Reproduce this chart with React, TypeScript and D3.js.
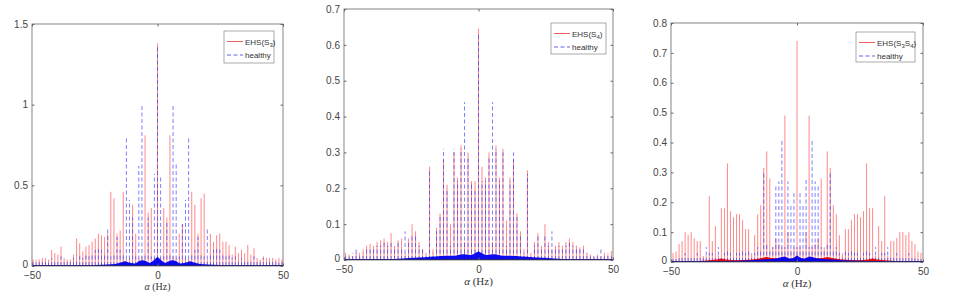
import { useRef, useEffect, RefObject } from 'react';
import * as d3 from 'd3';

const xTicks = [-50, 0, 50];
const yTicks1 = [0, 0.5, 1, 1.5];
const yTicks2 = [0, 0.1, 0.2, 0.3, 0.4, 0.5, 0.6, 0.7];
const yTicks3 = [0, 0.1, 0.2, 0.3, 0.4, 0.5, 0.6, 0.7, 0.8];

// sideband spacing (Hz) for each panel; values are listed from -K to +K
const step1 = 1.24;
const ehs1 = [
  0.04, 0.04, 0.04, 0.05, 0.05, 0.04, 0.10, 0.08, 0.07, 0.12, 0.05, 0.04, 0.04, 0.07, 0.17, 0.14, 0.09, 0.12, 0.13, 0.15,
  0.17, 0.20, 0.19, 0.18, 0.20, 0.46, 0.42, 0.20, 0.22, 0.46, 0.04, 0.05, 0.38, 0.20, 0.05, 0.06, 0.81, 0.33, 0.36, 0.05,
  1.38,
  0.05, 0.36, 0.30, 0.81, 0.06, 0.05, 0.20, 0.26, 0.05, 0.04, 0.46, 0.38, 0.20, 0.42, 0.45, 0.04, 0.20, 0.15, 0.19, 0.20,
  0.15, 0.15, 0.13, 0.07, 0.12, 0.08, 0.10, 0.08, 0.13, 0.07, 0.11, 0.05, 0.04, 0.06, 0.05, 0.05, 0.05, 0.04, 0.05, 0.04,
];
const healthy1 = [
  0.03, 0.02, 0.03, 0.04, 0.03, 0.02, 0.05, 0.04, 0.03, 0.06, 0.04, 0.03, 0.03, 0.05, 0.04, 0.06, 0.05, 0.07, 0.06, 0.08,
  0.10, 0.12, 0.10, 0.08, 0.24, 0.06, 0.08, 0.18, 0.10, 0.07, 0.79, 0.41, 0.30, 0.06, 0.62, 0.99, 0.08, 0.30, 0.06, 0.57,
  1.36,
  0.56, 0.06, 0.28, 0.08, 1.00, 0.64, 0.06, 0.26, 0.41, 0.79, 0.07, 0.10, 0.18, 0.08, 0.06, 0.24, 0.08, 0.10, 0.12, 0.10,
  0.08, 0.06, 0.07, 0.05, 0.06, 0.04, 0.05, 0.03, 0.03, 0.04, 0.06, 0.03, 0.04, 0.05, 0.02, 0.03, 0.04, 0.03, 0.02, 0.03,
];
const floor1Alpha = [-30, -25, -20, -17, -15, -13, -11, -9, -7.5, -6, -4.5, -3, -1.5, 0, 1.5, 3, 4.5, 6, 7.5, 9, 11, 13, 15, 17, 20, 25, 30];
const floor1 = [0.003, 0.006, 0.01, 0.012, 0.02, 0.03, 0.02, 0.015, 0.03, 0.035, 0.03, 0.02, 0.035, 0.055, 0.035, 0.02, 0.03, 0.035, 0.03, 0.015, 0.02, 0.03, 0.02, 0.012, 0.01, 0.006, 0.003];

const step2 = 1.3;
const ehs2 = [
  0.02, 0.015, 0.01, 0.02, 0.02, 0.03, 0.04, 0.045, 0.04, 0.05, 0.055, 0.06, 0.05, 0.075, 0.04, 0.055, 0.06, 0.02, 0.06,
  0.10, 0.08, 0.05, 0.03, 0.02, 0.26, 0.03, 0.09, 0.13, 0.28, 0.21, 0.10, 0.30, 0.23, 0.32, 0.05, 0.30, 0.22, 0.22,
  0.645,
  0.26, 0.23, 0.30, 0.05, 0.32, 0.23, 0.31, 0.11, 0.23, 0.28, 0.13, 0.08, 0.03, 0.25, 0.02, 0.05, 0.075, 0.04, 0.10, 0.05,
  0.03, 0.04, 0.05, 0.04, 0.05, 0.06, 0.05, 0.04, 0.035, 0.04, 0.02, 0.015, 0.01, 0.015, 0.01, 0.02, 0.015, 0.025,
];
const healthy2 = [
  0.01, 0.01, 0.02, 0.035, 0.01, 0.02, 0.03, 0.03, 0.03, 0.04, 0.04, 0.05, 0.04, 0.05, 0.03, 0.05, 0.03, 0.08, 0.05,
  0.07, 0.07, 0.04, 0.03, 0.01, 0.25, 0.02, 0.08, 0.12, 0.31, 0.20, 0.04, 0.31, 0.22, 0.31, 0.44, 0.29, 0.21, 0.20,
  0.63,
  0.22, 0.22, 0.29, 0.44, 0.31, 0.22, 0.30, 0.04, 0.22, 0.30, 0.12, 0.07, 0.02, 0.24, 0.01, 0.04, 0.07, 0.03, 0.07, 0.04, 0.08,
  0.03, 0.04, 0.03, 0.04, 0.05, 0.04, 0.03, 0.03, 0.03, 0.02, 0.01, 0.01, 0.01, 0.03, 0.01, 0.02, 0.01,
];
const floor2Alpha = [-32, -28, -24, -20, -16, -12, -9, -6, -3, -1, 0, 1, 3, 6, 9, 12, 16, 20, 24, 28, 32];
const floor2 = [0.002, 0.004, 0.006, 0.008, 0.01, 0.012, 0.012, 0.016, 0.014, 0.02, 0.024, 0.02, 0.014, 0.016, 0.012, 0.012, 0.01, 0.008, 0.006, 0.004, 0.002];

const step3 = 1.2;
const ehs3 = [
  0.03, 0.035, 0.06, 0.07, 0.10, 0.09, 0.10, 0.08, 0.07, 0.07, 0.02, 0.02, 0.22, 0.07, 0.12, 0.02, 0.18, 0.18, 0.33, 0.17,
  0.15, 0.16, 0.16, 0.14, 0.11, 0.11, 0.03, 0.09, 0.16, 0.19, 0.315, 0.37, 0.28, 0.05, 0.08, 0.06, 0.05, 0.49, 0.10, 0.04, 0.05,
  0.74,
  0.05, 0.04, 0.10, 0.49, 0.05, 0.06, 0.08, 0.28, 0.05, 0.37, 0.315, 0.19, 0.16, 0.09, 0.03, 0.11, 0.11, 0.14, 0.16, 0.16,
  0.15, 0.17, 0.33, 0.18, 0.18, 0.02, 0.12, 0.07, 0.22, 0.02, 0.07, 0.07, 0.08, 0.10, 0.10, 0.09, 0.10, 0.07, 0.06, 0.035, 0.03,
];
const healthy3 = [
  0.01, 0.01, 0.02, 0.02, 0.03, 0.02, 0.02, 0.02, 0.03, 0.02, 0.02, 0.05, 0.03, 0.03, 0.02, 0.05, 0.02, 0.03, 0.04, 0.03,
  0.02, 0.03, 0.03, 0.04, 0.03, 0.04, 0.02, 0.03, 0.05, 0.04, 0.30, 0.06, 0.04, 0.05, 0.26, 0.27, 0.41, 0.05, 0.27, 0.19, 0.23,
  0.05,
  0.23, 0.19, 0.28, 0.05, 0.41, 0.27, 0.26, 0.05, 0.04, 0.06, 0.30, 0.04, 0.05, 0.03, 0.02, 0.04, 0.03, 0.04, 0.03, 0.03,
  0.02, 0.03, 0.04, 0.03, 0.02, 0.05, 0.02, 0.03, 0.03, 0.05, 0.02, 0.02, 0.03, 0.02, 0.02, 0.02, 0.03, 0.02, 0.02, 0.01, 0.01,
];
const floor3Alpha = [-30, -24, -18, -14, -10, -7, -5, -3, -1, 0, 1, 3, 5, 7, 10, 14, 18, 24, 30];
const floor3 = [0.002, 0.004, 0.006, 0.008, 0.01, 0.014, 0.018, 0.012, 0.016, 0.022, 0.016, 0.012, 0.018, 0.014, 0.01, 0.008, 0.006, 0.004, 0.002];
const redFloor3Alpha = [-42, -36, -32, -30, -28, -24, -18, -14, -12, -10, -6, 0, 6, 10, 12, 14, 18, 24, 28, 30, 32, 36, 42];
const redFloor3 = [0.003, 0.005, 0.008, 0.012, 0.008, 0.006, 0.008, 0.013, 0.017, 0.013, 0.01, 0.009, 0.01, 0.013, 0.017, 0.013, 0.008, 0.006, 0.008, 0.012, 0.008, 0.005, 0.003];

const legend1 = 'EHS(S_3)';
const legend2 = 'EHS(S_4)';
const legend3 = 'EHS(S_3S_4)';
const healthyLabel = 'healthy';

const panels = [
  {
    id: 1, left: 32, right: 283, top: 24, bottom: 266, yMax: 1.5, yTicks: yTicks1, step: step1,
    ehs: ehs1, healthy: healthy1, floorAlpha: floor1Alpha, floor: floor1, redAlpha: [], red: [],
    legend: legend1, box: [224, 31, 50, 32], xPad: 5.5, labelY: 290, labelSize: 10,
  },
  {
    id: 2, left: 344, right: 613, top: 9, bottom: 260, yMax: 0.7, yTicks: yTicks2, step: step2,
    ehs: ehs2, healthy: healthy2, floorAlpha: floor2Alpha, floor: floor2, redAlpha: [], red: [],
    legend: legend2, box: [551, 23, 55, 31], xPad: 5.5, labelY: 285, labelSize: 11,
  },
  {
    id: 3, left: 671, right: 923, top: 23, bottom: 262, yMax: 0.8, yTicks: yTicks3, step: step3,
    ehs: ehs3, healthy: healthy3, floorAlpha: floor3Alpha, floor: floor3, redAlpha: redFloor3Alpha, red: redFloor3,
    legend: legend3, box: [856, 32, 59, 30], xPad: 5.5, labelY: 287, labelSize: 11,
  },
];

const EHS_COLOR = '#ff3b3b';
const HEALTHY_COLOR = '#2a2aff';
const DASH = '4,2.5';

const drawPanel = (svg: any, p: any) => {
  const x = d3.scaleLinear().domain([-50, 50]).range([p.left, p.right]);
  const y = d3.scaleLinear().domain([0, p.yMax]).range([p.bottom, p.top]);
  const g = svg.append('g');

  const clipId = `clip-${p.id}`;
  g.append('clipPath').attr('id', clipId).append('rect')
    .attr('x', p.left).attr('y', p.top)
    .attr('width', p.right - p.left).attr('height', p.bottom - p.top);
  const plot = g.append('g').attr('clip-path', `url(#${clipId})`);

  const stems = (vals: number[], color: string, dash: string | null) => {
    const mid = (vals.length - 1) / 2;
    plot.append('g')
      .attr('stroke', color)
      .attr('stroke-width', 1)
      .attr('stroke-opacity', 0.6)
      .attr('stroke-dasharray', dash)
      .selectAll('line')
      .data(vals)
      .join('line')
      .attr('x1', (_d: number, i: number) => x((i - mid) * p.step))
      .attr('x2', (_d: number, i: number) => x((i - mid) * p.step))
      .attr('y1', y(0))
      .attr('y2', (d: number) => y(d));
  };
  stems(p.ehs, EHS_COLOR, null);
  stems(p.healthy, HEALTHY_COLOR, DASH);

  // dense low-level floor of the spectra
  const floorArea = (alphas: number[], vals: number[], color: string) => {
    const pts: [number, number][] = alphas.map((a, i) => [a, vals[i]]);
    const gen = d3.area<[number, number]>()
      .x((d) => x(d[0]))
      .y0(y(0))
      .y1((d) => y(d[1]))
      .curve(d3.curveMonotoneX);
    plot.append('path').attr('d', gen(pts)).attr('fill', color).attr('fill-opacity', 0.95);
  };
  if (p.red.length) floorArea(p.redAlpha, p.red, '#e00000');
  floorArea(p.floorAlpha, p.floor, '#0000ee');

  plot.append('line')
    .attr('x1', x(-50)).attr('x2', x(50))
    .attr('y1', y(0) - 0.5).attr('y2', y(0) - 0.5)
    .attr('stroke', '#000080').attr('stroke-width', 1.2);

  // axes, MATLAB style: box with inward ticks
  const fmt = d3.format('~g');
  const axisStyle = (a: any) => {
    a.select('.domain').remove();
    a.attr('font-family', '"Liberation Sans", Arial, sans-serif').attr('font-size', 10).attr('color', '#444');
    a.selectAll('line').attr('stroke', '#666');
  };
  const ax = (gen: any, tx: string) => g.append('g').attr('transform', tx).call(gen).call(axisStyle);

  ax(d3.axisBottom(x).tickValues(xTicks).tickSizeInner(-2.5).tickSizeOuter(0).tickPadding(p.xPad).tickFormat(fmt), `translate(0,${p.bottom})`);
  ax(d3.axisTop(x).tickValues(xTicks).tickSizeInner(-2.5).tickSizeOuter(0).tickFormat(() => ''), `translate(0,${p.top})`);
  const yAx = ax(d3.axisLeft(y).tickValues(p.yTicks).tickSizeInner(-2.5).tickSizeOuter(0).tickPadding(4).tickFormat(fmt), `translate(${p.left},0)`);
  // lift the "0" a touch so it clears the "-50" under the corner
  yAx.selectAll('.tick').filter((d: number) => d === 0).select('text').attr('dy', '0.12em');
  ax(d3.axisRight(y).tickValues(p.yTicks).tickSizeInner(-2.5).tickSizeOuter(0).tickFormat(() => ''), `translate(${p.right},0)`);

  g.append('rect')
    .attr('x', p.left).attr('y', p.top)
    .attr('width', p.right - p.left).attr('height', p.bottom - p.top)
    .attr('fill', 'none').attr('stroke', '#666').attr('stroke-width', 0.8);

  // x label
  const lbl = g.append('text')
    .attr('x', (p.left + p.right) / 2)
    .attr('y', p.labelY)
    .attr('text-anchor', 'middle')
    .attr('font-family', '"Liberation Serif", "DejaVu Serif", serif')
    .attr('font-size', p.labelSize)
    .attr('fill', '#333');
  lbl.append('tspan').attr('font-style', 'italic').text('α');
  lbl.append('tspan').text(' (Hz)');

  // legend
  const [bx, by, bw, bh] = p.box;
  const lg = g.append('g');
  lg.append('rect')
    .attr('x', bx).attr('y', by).attr('width', bw).attr('height', bh)
    .attr('fill', 'white').attr('stroke', '#888').attr('stroke-width', 0.7);
  const rows = [
    { label: p.legend, color: '#f06060', dash: null, dy: 10.5 },
    { label: healthyLabel, color: '#6060f0', dash: DASH, dy: 24 },
  ];
  rows.forEach((r) => {
    lg.append('line')
      .attr('x1', bx + 3).attr('x2', bx + 19)
      .attr('y1', by + r.dy).attr('y2', by + r.dy)
      .attr('stroke', r.color).attr('stroke-width', 1)
      .attr('stroke-dasharray', r.dash);
    const t = lg.append('text')
      .attr('x', bx + 21).attr('y', by + r.dy + 3)
      .attr('font-family', '"Liberation Sans", Arial, sans-serif')
      .attr('font-size', 8)
      .attr('fill', '#333');
    const parts = r.label.split(/_(\d)/);
    let sub = false;
    parts.forEach((s: string, i: number) => {
      if (!s) return;
      const ts = t.append('tspan').text(s);
      if (i % 2 === 1) {
        ts.attr('font-size', 6).attr('dy', 2);
        sub = true;
      } else if (sub) {
        ts.attr('dy', -2);
        sub = false;
      }
    });
  });
};

const App = () => {
  const svgRef: RefObject<SVGSVGElement> = useRef(null);

  useEffect(() => {
    const svg = d3.select(svgRef.current);
    svg.selectAll('*').remove();
    panels.forEach((p) => drawPanel(svg, p));
  }, []);

  return (
    <svg
      ref={svgRef}
      width={954}
      height={292}
      style={{ position: 'absolute', left: 0, top: 0, background: 'white' }}
    />
  );
};

export default App;
